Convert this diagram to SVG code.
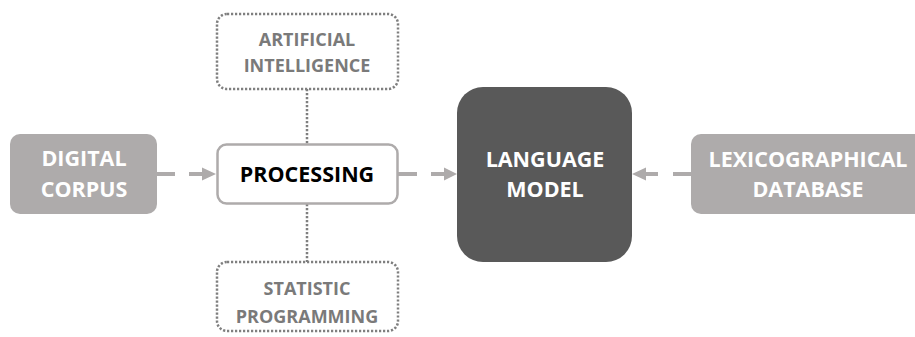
<svg xmlns="http://www.w3.org/2000/svg" width="915" height="337" viewBox="0 0 915 337">
<style>
.t{font-family:"Open Sans","Liberation Sans",sans-serif;font-weight:700;text-anchor:middle}
.big{font-size:21.5px}
.small{font-size:18px;fill:#7a7a7a}
.w{fill:#ffffff}
.grey{fill:#aeabab}
.dot{fill:#ffffff;stroke:#7f7f7f;stroke-width:2.5;stroke-dasharray:2.2 1.8}
.dline{stroke:#7f7f7f;stroke-width:2.5;stroke-dasharray:2.2 1.8;fill:none}
.arr{stroke:#aeabab;stroke-width:4;fill:none}
.head{fill:#aeabab}
</style>
<rect width="915" height="337" fill="#ffffff"/>
<g id="connectors">
<line class="dline" x1="307" y1="89" x2="307" y2="144"/>
<line class="dline" x1="307" y1="204" x2="307" y2="262"/>
<line class="arr" x1="157" y1="174" x2="203" y2="174" stroke-dasharray="18 14"/>
<polygon class="head" points="216,174 202,167.5 202,180.5"/>
<line class="arr" x1="398" y1="174" x2="446" y2="174" stroke-dasharray="19 14"/>
<polygon class="head" points="457,174 444,167.5 444,180.5"/>
<line class="arr" x1="691" y1="174" x2="645" y2="174" stroke-dasharray="18 15"/>
<polygon class="head" points="632,174 646,167.5 646,180.5"/>
</g>
<g id="digital-corpus">
<rect class="grey" x="10" y="134" width="147" height="80" rx="10"/>
<text class="t big w" x="84" y="166">DIGITAL</text>
<text class="t big w" x="84" y="197">CORPUS</text>
</g>
<g id="artificial-intelligence">
<rect class="dot" x="217" y="14" width="181" height="75" rx="10"/>
<text class="t small" x="307" y="46">ARTIFICIAL</text>
<text class="t small" x="307" y="72">INTELLIGENCE</text>
</g>
<g id="processing">
<rect x="217.5" y="144.5" width="180" height="59" rx="9" fill="#ffffff" stroke="#aeabab" stroke-width="2.5"/>
<text class="t big" x="307" y="182" fill="#000000">PROCESSING</text>
</g>
<g id="statistic-programming">
<rect class="dot" x="217" y="262" width="181" height="69" rx="10"/>
<text class="t small" x="307" y="295">STATISTIC</text>
<text class="t small" x="307" y="323">PROGRAMMING</text>
</g>
<g id="language-model">
<rect x="457" y="87" width="175" height="175" rx="26" fill="#595959"/>
<text class="t big w" x="545" y="167">LANGUAGE</text>
<text class="t big w" x="545" y="197">MODEL</text>
</g>
<g id="lexicographical-database">
<rect class="grey" x="691" y="134" width="234" height="80" rx="10"/>
<text class="t big w" x="808" y="167">LEXICOGRAPHICAL</text>
<text class="t big w" x="808" y="197">DATABASE</text>
</g>
</svg>
